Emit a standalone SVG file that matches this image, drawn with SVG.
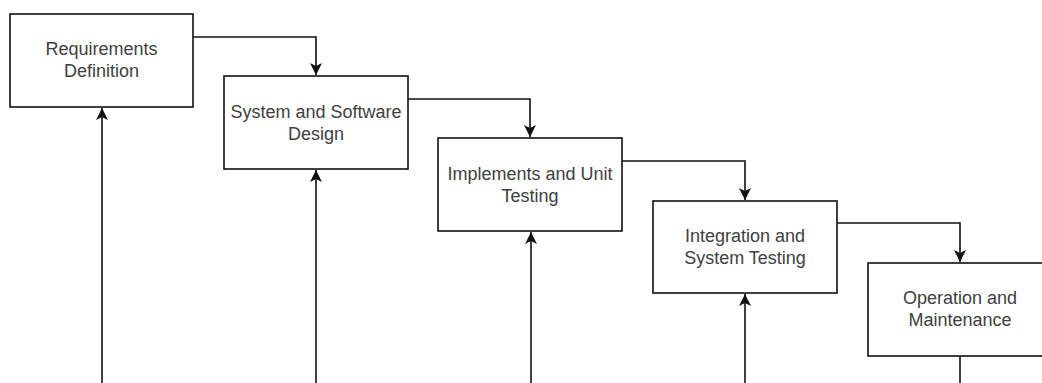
<svg xmlns="http://www.w3.org/2000/svg" width="1042" height="383" viewBox="0 0 1042 383">
<style>
.box{fill:#fff;stroke:#111;stroke-width:1.6}
.lbl{font-family:"Liberation Sans",Arial,sans-serif;font-size:18px;fill:#404040;text-anchor:middle}
.con{fill:none;stroke:#111;stroke-width:1.6}
</style>
<defs>
<marker id="arr" viewBox="0 0 12 12" refX="12" refY="6" markerWidth="12" markerHeight="12" markerUnits="userSpaceOnUse" orient="auto">
<path d="M0,0 L12,6 L0,12 L3,6 Z" fill="#111"/>
</marker>
</defs>
<rect width="1042" height="383" fill="#fff"/>
<g id="connectors">
<path class="con" d="M193,37 H316 V75" marker-end="url(#arr)"/>
<path class="con" d="M408,99 H530 V137" marker-end="url(#arr)"/>
<path class="con" d="M622,161 H745 V200" marker-end="url(#arr)"/>
<path class="con" d="M837,223 H960 V262" marker-end="url(#arr)"/>
<path class="con" d="M102,383 V108" marker-end="url(#arr)"/>
<path class="con" d="M316,383 V170" marker-end="url(#arr)"/>
<path class="con" d="M531,383 V232" marker-end="url(#arr)"/>
<path class="con" d="M745,383 V294" marker-end="url(#arr)"/>
<path class="con" d="M960,356 V383"/>
</g>
<g id="n1">
<rect class="box" x="10" y="14" width="183" height="93"/>
<text class="lbl" x="101.5" y="55">Requirements</text>
<text class="lbl" x="101.5" y="77">Definition</text>
</g>
<g id="n2">
<rect class="box" x="224" y="76" width="184" height="93"/>
<text class="lbl" x="316" y="118">System and Software</text>
<text class="lbl" x="316" y="140">Design</text>
</g>
<g id="n3">
<rect class="box" x="438" y="138" width="184" height="93"/>
<text class="lbl" x="530" y="180">Implements and Unit</text>
<text class="lbl" x="530" y="202">Testing</text>
</g>
<g id="n4">
<rect class="box" x="653" y="201" width="184" height="92"/>
<text class="lbl" x="745" y="242">Integration and</text>
<text class="lbl" x="745" y="264">System Testing</text>
</g>
<g id="n5">
<rect class="box" x="868" y="263" width="184" height="93"/>
<text class="lbl" x="960" y="304">Operation and</text>
<text class="lbl" x="960" y="326">Maintenance</text>
</g>
</svg>
